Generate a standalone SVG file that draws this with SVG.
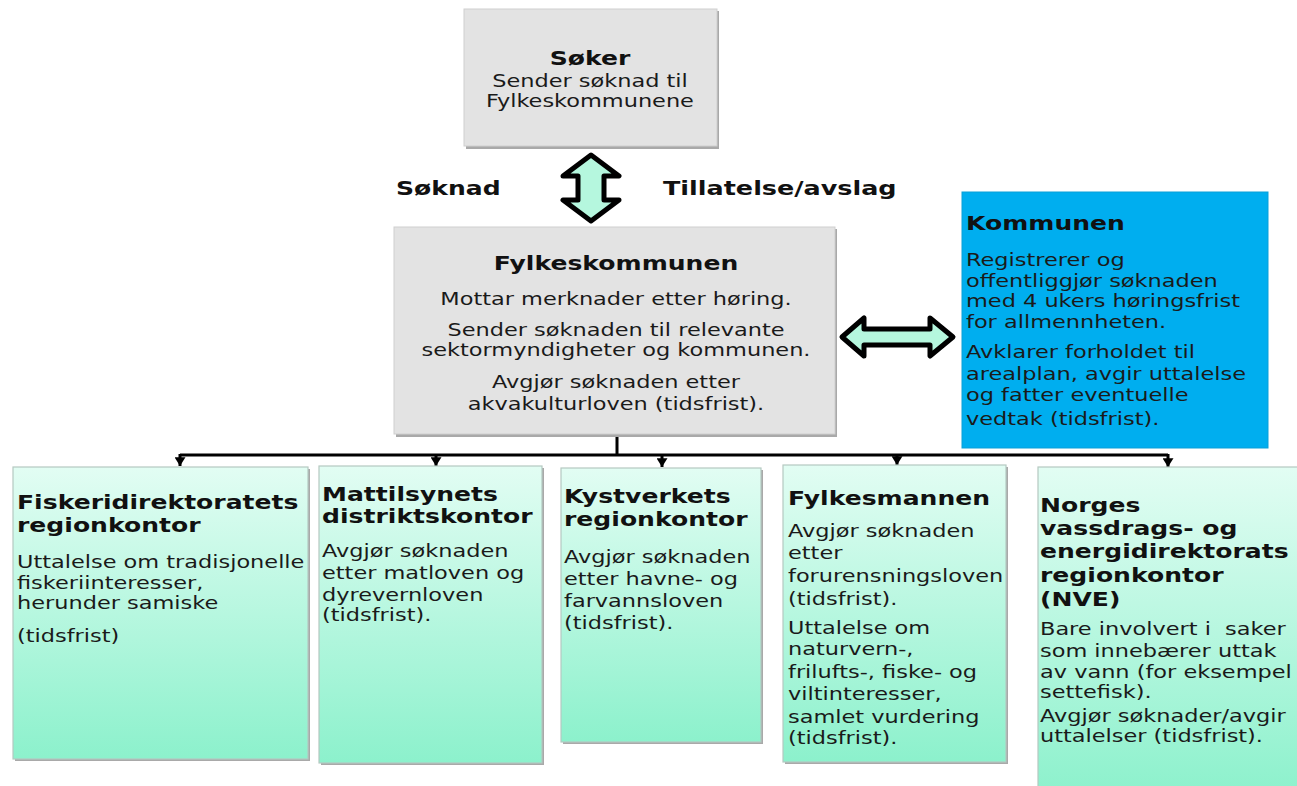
<svg xmlns="http://www.w3.org/2000/svg" width="1297" height="786" viewBox="0 0 1297 786">
<style>
  text { font-family: "DejaVu Sans", Verdana, "Liberation Sans", sans-serif; font-size: 17px; fill: #1a1a1a; white-space: pre; }
  .h { font-weight: bold; font-size: 19px; fill: #111; }
  .c { text-anchor: middle; }
  .gray { fill: #e3e3e3; stroke: #cfcfcf; stroke-width: 1; }
  .shadow { fill: #a9a9a9; }
  .mint { fill: url(#mintGrad); stroke: #b5c9c1; stroke-width: 1.2; }
  .blue { fill: #00aeef; stroke: #0a9fd8; stroke-width: 1; }
  .dbl { fill: #b5f7de; stroke: #000; stroke-width: 5; stroke-linejoin: round; }
  .conn { fill: none; stroke: #000; stroke-width: 3; }
</style>
<defs>
  <linearGradient id="mintGrad" x1="0" y1="0" x2="0" y2="1">
    <stop offset="0" stop-color="#e2fdf3"/>
    <stop offset="1" stop-color="#8cf1cc"/>
  </linearGradient>
  <marker id="tri" markerUnits="userSpaceOnUse" viewBox="0 0 8 10" refX="8" refY="5" markerWidth="9" markerHeight="11" orient="auto">
    <path d="M0,0 L8,5 L0,10 Z" fill="#000"/>
  </marker>
</defs>
<rect width="1297" height="786" fill="#fff"/>

<!-- connectors -->
<g id="connectors">
  <path class="conn" d="M617,435 V455 M180,455 H1168"/>
  <path class="conn" d="M180,454 V466" marker-end="url(#tri)"/>
  <path class="conn" d="M436,454 V466" marker-end="url(#tri)"/>
  <path class="conn" d="M662,454 V467" marker-end="url(#tri)"/>
  <path class="conn" d="M897,454 V465" marker-end="url(#tri)"/>
  <path class="conn" d="M1168,454 V467" marker-end="url(#tri)"/>
  <path id="arrow-soker-fylke" class="dbl" d="M591,155 L619,176 L604,176 L604,200 L619,200 L591,221 L563,200 L578,200 L578,176 L563,176 Z"/>
  <path id="arrow-fylke-kommunen" class="dbl" d="M842,337 L864,318 L864,329 L930,329 L930,318 L953,337 L930,356 L930,345 L864,345 L864,356 Z"/>
  <g transform="matrix(1.32 0 0 1 396 0)"><text class="h" x="0" y="195">Søknad</text></g>
  <g transform="matrix(1.34 0 0 1 663 0)"><text class="h" x="0" y="195">Tillatelse/avslag</text></g>
</g>

<!-- Søker -->
<g id="soker">
  <rect class="shadow" x="466" y="11" width="253" height="138"/>
  <rect class="gray" x="464" y="9" width="253" height="137"/>
  <g transform="matrix(1.32 0 0 1 590 0)">
    <text class="h c" x="0" y="65">Søker</text>
    <text class="c" x="0" y="87">Sender søknad til</text>
    <text class="c" x="0" y="107">Fylkeskommunene</text>
  </g>
</g>

<!-- Fylkeskommunen -->
<g id="fylkeskommunen">
  <rect class="shadow" x="396" y="229" width="441" height="208"/>
  <rect class="gray" x="394" y="227" width="441" height="207"/>
  <g transform="matrix(1.32 0 0 1 616 0)">
    <text class="h c" x="0" y="270">Fylkeskommunen</text>
    <text class="c" x="0" y="305">Mottar merknader etter høring.</text>
    <text class="c" x="0" y="336">Sender søknaden til relevante</text>
    <text class="c" x="0" y="356">sektormyndigheter og kommunen.</text>
    <text class="c" x="0" y="388">Avgjør søknaden etter</text>
    <text class="c" x="0" y="410">akvakulturloven (tidsfrist).</text>
  </g>
</g>

<!-- Kommunen -->
<g id="kommunen">
  <rect class="blue" x="962" y="192" width="306" height="256"/>
  <g transform="matrix(1.32 0 0 1 966 0)">
    <text class="h" x="0" y="230">Kommunen</text>
    <text x="0" y="266">Registrerer og</text>
    <text x="0" y="287">offentliggjør søknaden</text>
    <text x="0" y="307">med 4 ukers høringsfrist</text>
    <text x="0" y="328">for allmennheten.</text>
    <text x="0" y="358">Avklarer forholdet til</text>
    <text x="0" y="380">arealplan, avgir uttalelse</text>
    <text x="0" y="401">og fatter eventuelle</text>
    <text x="0" y="425">vedtak (tidsfrist).</text>
  </g>
</g>

<!-- Fiskeridirektoratet -->
<g id="fiskeridirektoratet">
  <rect class="shadow" x="15" y="469" width="295" height="292"/>
  <rect class="mint" x="13" y="467" width="295" height="292"/>
  <g transform="matrix(1.32 0 0 1 17 0)">
    <text class="h" x="0" y="509">Fiskeridirektoratets</text>
    <text class="h" x="0" y="532">regionkontor</text>
    <text x="0" y="568">Uttalelse om tradisjonelle</text>
    <text x="0" y="589">fiskeriinteresser,</text>
    <text x="0" y="609">herunder samiske</text>
    <text x="0" y="642">(tidsfrist)</text>
  </g>
</g>

<!-- Mattilsynet -->
<g id="mattilsynet">
  <rect class="shadow" x="321" y="468" width="223" height="297"/>
  <rect class="mint" x="319" y="466" width="223" height="297"/>
  <g transform="matrix(1.32 0 0 1 322 0)">
    <text class="h" x="0" y="501">Mattilsynets</text>
    <text class="h" x="0" y="523">distriktskontor</text>
    <text x="0" y="557">Avgjør søknaden</text>
    <text x="0" y="579">etter matloven og</text>
    <text x="0" y="601">dyrevernloven</text>
    <text x="0" y="621">(tidsfrist).</text>
  </g>
</g>

<!-- Kystverket -->
<g id="kystverket">
  <rect class="shadow" x="563" y="470" width="200" height="274"/>
  <rect class="mint" x="561" y="468" width="200" height="274"/>
  <g transform="matrix(1.32 0 0 1 564 0)">
    <text class="h" x="0" y="503">Kystverkets</text>
    <text class="h" x="0" y="526">regionkontor</text>
    <text x="0" y="563">Avgjør søknaden</text>
    <text x="0" y="585">etter havne- og</text>
    <text x="0" y="607">farvannsloven</text>
    <text x="0" y="629">(tidsfrist).</text>
  </g>
</g>

<!-- Fylkesmannen -->
<g id="fylkesmannen">
  <rect class="shadow" x="785" y="467" width="223" height="297"/>
  <rect class="mint" x="783" y="465" width="223" height="297"/>
  <g transform="matrix(1.32 0 0 1 788 0)">
    <text class="h" x="0" y="505">Fylkesmannen</text>
    <text x="0" y="537">Avgjør søknaden</text>
    <text x="0" y="559">etter</text>
    <text x="0" y="582">forurensningsloven</text>
    <text x="0" y="605">(tidsfrist).</text>
    <text x="0" y="634">Uttalelse om</text>
    <text x="0" y="655">naturvern-,</text>
    <text x="0" y="678">frilufts-, fiske- og</text>
    <text x="0" y="700">viltinteresser,</text>
    <text x="0" y="723">samlet vurdering</text>
    <text x="0" y="744">(tidsfrist).</text>
  </g>
</g>

<!-- NVE -->
<g id="nve">
  <rect class="shadow" x="1040" y="469" width="270" height="330"/>
  <rect class="mint" x="1038" y="467" width="270" height="330"/>
  <g transform="matrix(1.32 0 0 1 1040 0)">
    <text class="h" x="0" y="512">Norges</text>
    <text class="h" x="0" y="535">vassdrags- og</text>
    <text class="h" x="0" y="558">energidirektorats</text>
    <text class="h" x="0" y="582">regionkontor</text>
    <text class="h" x="0" y="606">(NVE)</text>
    <text x="0" y="635">Bare involvert i  saker</text>
    <text x="0" y="657">som innebærer uttak</text>
    <text x="0" y="678">av vann (for eksempel</text>
    <text x="0" y="698">settefisk).</text>
    <text x="0" y="722">Avgjør søknader/avgir</text>
    <text x="0" y="742">uttalelser (tidsfrist).</text>
  </g>
</g>
</svg>
